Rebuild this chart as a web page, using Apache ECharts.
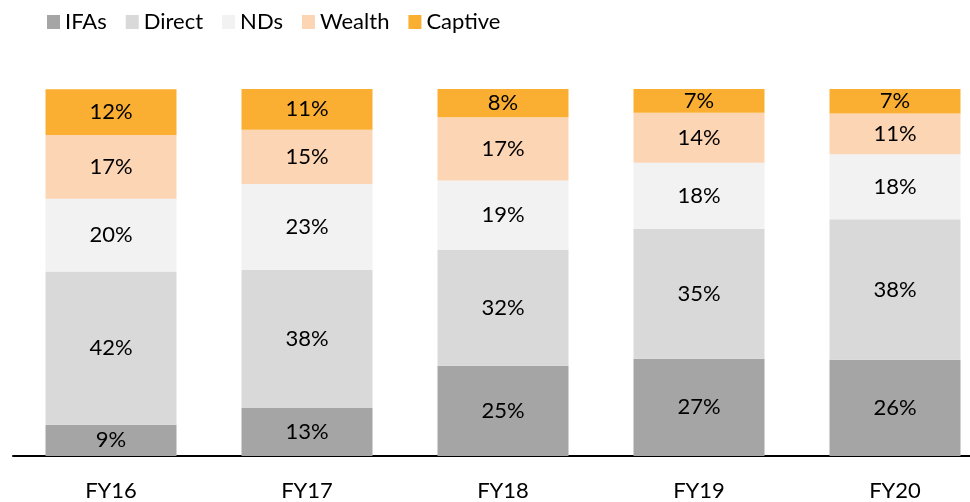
<!DOCTYPE html>
<html>
<head>
    <meta charset="utf-8">
    <title>Channel mix</title>
    <script src="https://cdn.jsdelivr.net/npm/echarts@6/dist/echarts.min.js"></script>
    <style>
        html, body { margin: 0; padding: 0; background: #fff; }
        #main { width: 970px; height: 502px; }
    </style>
</head>
<body>
    <div id="main"></div>
    <script type="text/javascript">
        // share of each channel, %
        var years   = ['FY16', 'FY17', 'FY18', 'FY19', 'FY20'];
        var ifas    = [8.5, 13.1, 24.6, 26.5, 26.2];
        var direct  = [41.8, 37.6, 31.6, 35.4, 38.3];
        var nds     = [19.8, 23.4, 18.9, 18.0, 17.7];
        var wealth  = [17.4, 14.8, 17.2, 13.6, 11.1];
        var captive = [12.4, 11.1, 7.7, 6.5, 6.7];

        var names  = ['IFAs', 'Direct', 'NDs', 'Wealth', 'Captive'];
        var colors = ['#a5a5a5', '#d9d9d9', '#f2f2f2', '#fcd5b4', '#fbaf32'];
        var font = 'Lato, "Open Sans", sans-serif';

        var myChart = echarts.init(document.getElementById('main'));

        function mkSeries(name, data, color) {
            return {
                name: name,
                type: 'bar',
                stack: 'all',
                barWidth: 131,
                data: data,
                itemStyle: { color: color },
                label: {
                    show: true,
                    position: 'inside',
                    color: '#000',
                    fontFamily: font,
                    fontSize: 22,
                    formatter: function (p) { return Math.round(p.value) + '%'; }
                }
            };
        }

        var option = {
            animation: false,
            textStyle: { fontFamily: font },
            color: colors,
            legend: {
                left: 47,
                top: 11,
                padding: 0,
                icon: 'rect',
                itemWidth: 13,
                itemHeight: 14,
                itemGap: 19,
                textStyle: { color: '#000', fontSize: 22, fontFamily: font },
                data: names
            },
            // the plot runs a bit past the right edge, so the last bar sits close to it
            grid: { left: 13, width: 980, top: 89, bottom: 46, outerBoundsMode: 'none' },
            xAxis: {
                type: 'category',
                data: years,
                axisLine: { lineStyle: { color: '#000', width: 2 } },
                axisTick: { show: false },
                axisLabel: { color: '#000', fontSize: 22, fontFamily: font, margin: 24 }
            },
            yAxis: {
                type: 'value',
                min: 0,
                max: 100,
                show: false
            },
            series: [
                mkSeries(names[0], ifas, colors[0]),
                mkSeries(names[1], direct, colors[1]),
                mkSeries(names[2], nds, colors[2]),
                mkSeries(names[3], wealth, colors[3]),
                mkSeries(names[4], captive, colors[4])
            ]
        };
        myChart.setOption(option);
    </script>
</body>
</html>
